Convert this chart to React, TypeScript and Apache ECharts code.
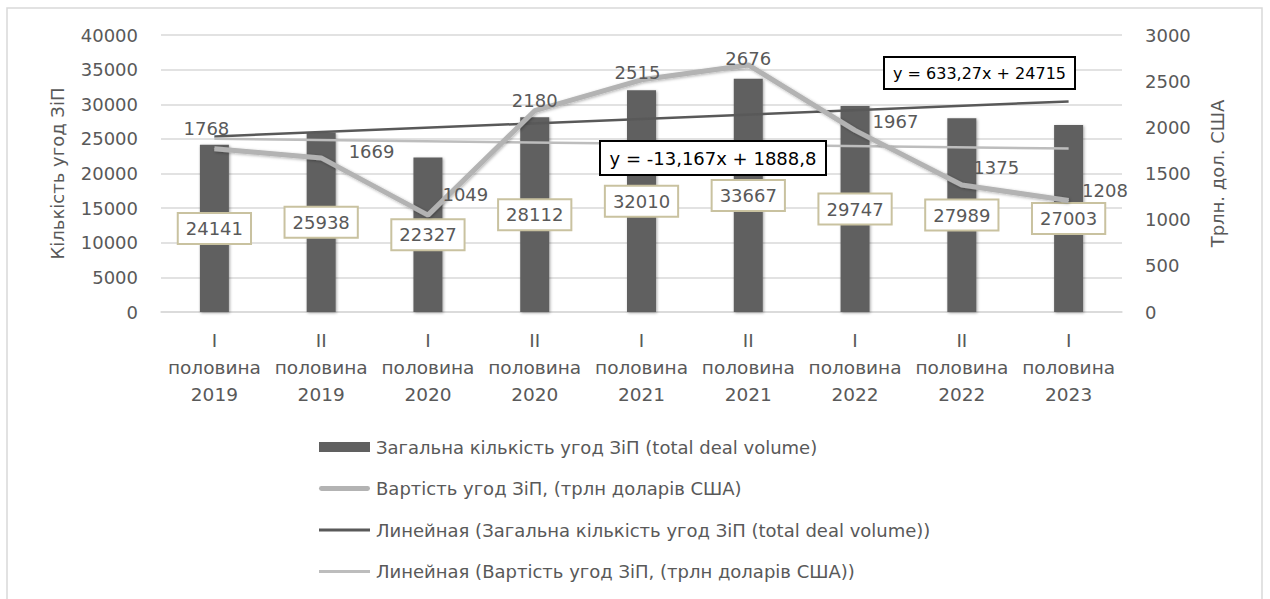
import React, { useEffect, useRef } from "react";
import * as echarts from "echarts";

const categories = [
  "I\nполовина\n2019",
  "II\nполовина\n2019",
  "I\nполовина\n2020",
  "II\nполовина\n2020",
  "I\nполовина\n2021",
  "II\nполовина\n2021",
  "I\nполовина\n2022",
  "II\nполовина\n2022",
  "I\nполовина\n2023",
];
const dealCount = [24141, 25938, 22327, 28112, 32010, 33667, 29747, 27989, 27003];
const dealValue = [1768, 1669, 1049, 2180, 2515, 2676, 1967, 1375, 1208];
// trendline end points (first and last period), as drawn
const countTrend = [
  [0, 25348],
  [8, 30414],
];
const valueTrend = [
  [0, 1876],
  [8, 1770],
];
const seriesNames = [
  "Загальна кількість угод ЗіП (total deal volume)",
  "Вартість угод ЗіП, (трлн доларів США)",
  "Линейная (Загальна кількість угод ЗіП (total deal volume))",
  "Линейная (Вартість угод ЗіП, (трлн доларів США))",
];
const equations = ["y = 633,27x + 24715", "y = -13,167x + 1888,8"];
const leftAxisName = "Кількість угод ЗіП";
const rightAxisName = "Трлн. дол. США";

// label placement for the value line (style only)
const valueLabelPlacement: { pos: string; off: [number, number] }[] = [
  { pos: "top", off: [-8, -6] },
  { pos: "right", off: [22, -6] },
  { pos: "right", off: [9, -21] },
  { pos: "top", off: [0, 4] },
  { pos: "top", off: [-4, 7] },
  { pos: "top", off: [0, 8] },
  { pos: "right", off: [12, -9] },
  { pos: "right", off: [6, -18] },
  { pos: "right", off: [8, -10] },
];

const TXT = "#595959";
const FONT = "'DejaVu Sans', 'Liberation Sans', sans-serif";
const BAR_COLOR = "#606060";
const VALUE_COLOR = "#b3b3b3";
const TREND1_COLOR = "#595959";
const TREND2_COLOR = "#bdbdbd";

export default function App() {
  const ref = useRef<HTMLDivElement>(null);
  useEffect(() => {
    if (!ref.current) return;
    const chart = echarts.init(ref.current, null, { renderer: "svg" });
    const plain = (v: number) => String(v);
    chart.setOption({
      animation: false,
      backgroundColor: "#ffffff",
      textStyle: { fontFamily: FONT, color: TXT },
      grid: { left: 161, right: 148, top: 35, bottom: 287, containLabel: false },
      legend: {
        orient: "vertical",
        left: 314,
        top: 433,
        itemWidth: 51,
        itemHeight: 10,
        itemGap: 23.5,
        symbolKeepAspect: true,
        textStyle: { fontSize: 18, color: TXT, fontFamily: FONT, padding: [0, 0, 0, 1] },
        data: [
          {
            name: seriesNames[0],
            icon: "path://M0,0H51V10H0Z",
            itemStyle: { color: BAR_COLOR, borderWidth: 0, shadowBlur: 0 },
          },
          {
            name: seriesNames[1],
            icon: "path://M0,0L0,0M51,10L51,10M2,2.5H49A2.5,2.5,0,0,1,49,7.5H2A2.5,2.5,0,0,1,2,2.5Z",
            itemStyle: { color: VALUE_COLOR, borderWidth: 0, opacity: 1, shadowBlur: 0 },
          },
          {
            name: seriesNames[2],
            icon: "path://M0,0L0,0M51,10L51,10M0,3.6H51V6.4H0Z",
            itemStyle: { color: TREND1_COLOR, borderWidth: 0 },
          },
          {
            name: seriesNames[3],
            icon: "path://M0,0L0,0M51,10L51,10M0,3.6H51V6.4H0Z",
            itemStyle: { color: TREND2_COLOR, borderWidth: 0 },
          },
        ],
      },
      xAxis: {
        type: "category",
        data: categories,
        axisLine: { lineStyle: { color: "#d9d9d9", width: 1.5 } },
        axisTick: { show: false },
        axisLabel: {
          interval: 0,
          fontSize: 18.5,
          lineHeight: 27,
          color: TXT,
          margin: 15,
          fontFamily: FONT,
        },
      },
      yAxis: [
        {
          type: "value",
          min: 0,
          max: 40000,
          interval: 5000,
          name: leftAxisName,
          nameLocation: "middle",
          nameGap: 95,
          nameRotate: 90,
          nameTextStyle: { fontSize: 18, color: TXT, fontFamily: FONT },
          axisLabel: { fontSize: 18, color: TXT, margin: 23, formatter: plain },
          axisLine: { show: false },
          axisTick: { show: false },
          splitLine: { lineStyle: { color: "#d9d9d9", width: 1.5 } },
        },
        {
          type: "value",
          min: 0,
          max: 3000,
          interval: 500,
          name: rightAxisName,
          nameLocation: "middle",
          nameGap: 86,
          nameRotate: 90,
          nameTextStyle: { fontSize: 18, color: TXT, fontFamily: FONT },
          axisLabel: { fontSize: 18, color: TXT, margin: 23, formatter: plain },
          axisLine: { show: false },
          axisTick: { show: false },
          splitLine: { show: false },
        },
      ],
      series: [
        {
          name: seriesNames[0],
          type: "bar",
          yAxisIndex: 0,
          data: dealCount,
          barWidth: 29,
          itemStyle: {
            color: BAR_COLOR,
            shadowBlur: 3,
            shadowColor: "rgba(0,0,0,0.35)",
            shadowOffsetX: 1,
            shadowOffsetY: 1,
          },
          label: {
            show: true,
            position: "inside",
            fontSize: 18,
            color: TXT,
            fontFamily: FONT,
            backgroundColor: "#ffffff",
            borderColor: "#c9c2a0",
            borderWidth: 2,
            padding: [6, 7, 5, 7],
          },
          z: 2,
        },
        {
          name: seriesNames[2],
          type: "line",
          yAxisIndex: 0,
          data: countTrend,
          symbol: "none",
          lineStyle: { color: TREND1_COLOR, width: 2.5 },
          itemStyle: { color: TREND1_COLOR },
          z: 3,
        },
        {
          name: seriesNames[3],
          type: "line",
          yAxisIndex: 1,
          data: valueTrend,
          symbol: "none",
          lineStyle: { color: TREND2_COLOR, width: 2.5 },
          itemStyle: { color: TREND2_COLOR },
          z: 3,
        },
        {
          name: seriesNames[1],
          type: "line",
          yAxisIndex: 1,
          symbol: "circle",
          symbolSize: 1,
          showSymbol: true,
          data: dealValue.map((v, i) => ({
            value: v,
            label: {
              show: true,
              position: valueLabelPlacement[i].pos,
              offset: valueLabelPlacement[i].off,
            },
          })),
          lineStyle: {
            color: VALUE_COLOR,
            width: 5,
            shadowBlur: 3,
            shadowColor: "rgba(0,0,0,0.3)",
            shadowOffsetX: 1,
            shadowOffsetY: 1,
          },
          itemStyle: { color: VALUE_COLOR },
          label: { show: true, fontSize: 18, color: TXT, fontFamily: FONT },
          z: 4,
        },
      ],
      graphic: [
        {
          type: "rect",
          shape: { x: 7, y: 8, width: 1255, height: 610 },
          style: { fill: "none", stroke: "#d9d9d9", lineWidth: 1.5 },
          silent: true,
          z: -1,
        },
        {
          type: "rect",
          shape: { x: 884, y: 57, width: 191, height: 32 },
          style: { fill: "#ffffff", stroke: "#000000", lineWidth: 2 },
          z: 10,
        },
        {
          type: "text",
          x: 979.5,
          y: 73,
          style: {
            text: equations[0],
            fill: "#000000",
            font: `16px ${FONT}`,
            textAlign: "center",
            textVerticalAlign: "middle",
          },
          z: 11,
        },
        {
          type: "rect",
          shape: { x: 600, y: 141, width: 226, height: 34 },
          style: { fill: "#ffffff", stroke: "#000000", lineWidth: 2 },
          z: 10,
        },
        {
          type: "text",
          x: 713,
          y: 158,
          style: {
            text: equations[1],
            fill: "#000000",
            font: `18px ${FONT}`,
            textAlign: "center",
            textVerticalAlign: "middle",
          },
          z: 11,
        },
      ],
    });
    return () => chart.dispose();
  }, []);
  return (
    <div
      ref={ref}
      style={{ position: "absolute", left: 0, top: 0, width: 1270, height: 599 }}
    />
  );
}
